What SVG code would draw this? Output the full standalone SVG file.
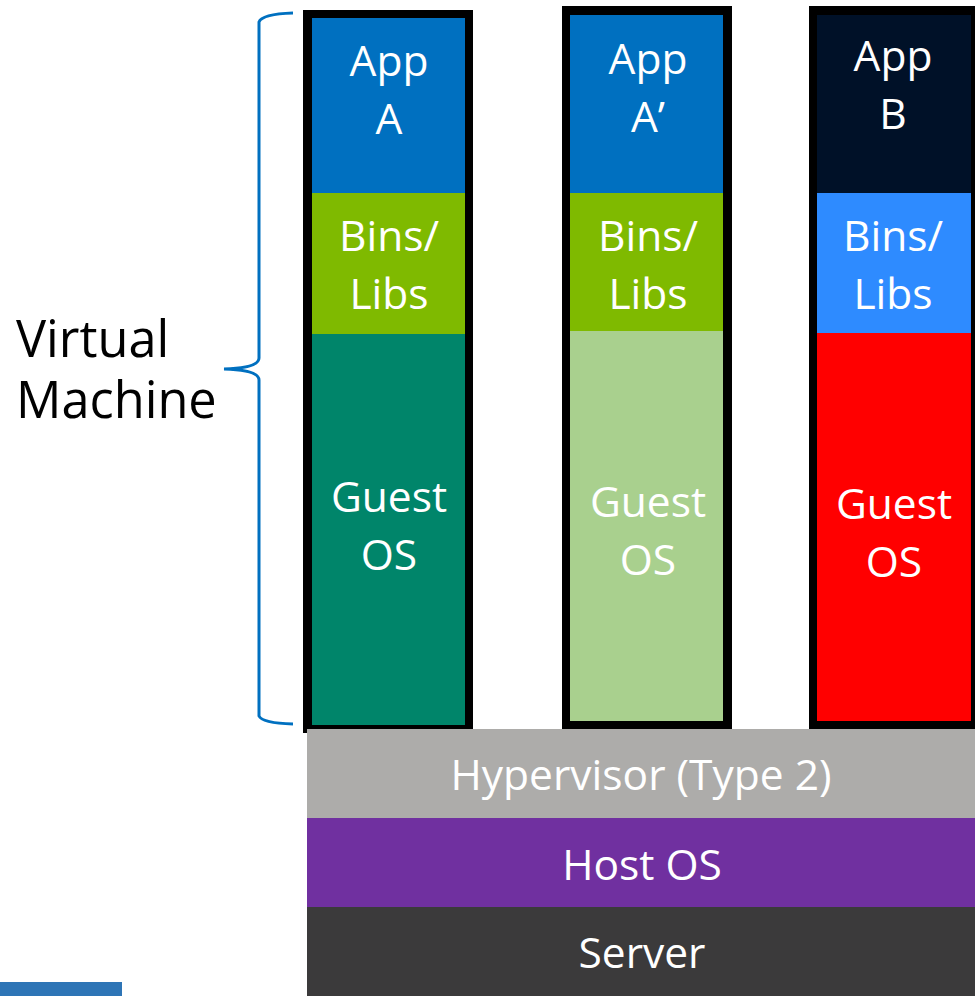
<svg xmlns="http://www.w3.org/2000/svg" width="975" height="996" viewBox="0 0 975 996">
<style>
text{font-family:"Open Sans","Noto Sans","Liberation Sans",sans-serif;fill:#fff;text-anchor:middle;font-size:42.5px}
.lbl{fill:#000;text-anchor:start;font-size:50.5px}
.frame{fill:#000}
</style>
<rect width="975" height="996" fill="#fff"/>
<g id="vm-a">
<rect class="frame" x="303" y="10" width="170" height="723"/>
<rect x="312" y="18" width="153" height="176" fill="#0070C0"/>
<rect x="312" y="193" width="153" height="141" fill="#7FBA00"/>
<rect x="312" y="334" width="153" height="391" fill="#00856A"/>
<text x="389" y="76">App</text><text x="389" y="134">A</text>
<text x="389" y="251">Bins/</text><text x="389" y="309">Libs</text>
<text x="389" y="512">Guest</text><text x="389" y="570">OS</text>
</g>
<g id="vm-a2">
<rect class="frame" x="562" y="6" width="170" height="723"/>
<rect x="570" y="15" width="153" height="179" fill="#0070C0"/>
<rect x="570" y="193" width="153" height="138" fill="#7FBA00"/>
<rect x="570" y="331" width="153" height="390" fill="#A9D08E"/>
<text x="648" y="74">App</text><text x="648" y="132">A’</text>
<text x="648" y="251">Bins/</text><text x="648" y="309">Libs</text>
<text x="648" y="517">Guest</text><text x="648" y="575">OS</text>
</g>
<g id="vm-b">
<rect class="frame" x="809" y="6" width="170" height="723"/>
<rect x="817" y="15" width="154" height="179" fill="#001128"/>
<rect x="817" y="193" width="154" height="140" fill="#2E8BFF"/>
<rect x="817" y="333" width="154" height="388" fill="#FF0000"/>
<text x="893" y="71">App</text><text x="893" y="129">B</text>
<text x="893" y="251">Bins/</text><text x="893" y="309">Libs</text>
<text x="894" y="519">Guest</text><text x="894" y="577">OS</text>
</g>
<g id="hypervisor">
<rect x="307" y="729" width="668" height="90" fill="#ADACAA"/>
<text x="641" y="790">Hypervisor (Type 2)</text>
</g>
<g id="host-os">
<rect x="307" y="818" width="668" height="90" fill="#7030A0"/>
<text x="642" y="880">Host OS</text>
</g>
<g id="server">
<rect x="307" y="907" width="668" height="89" fill="#3B3A3B"/>
<text x="642" y="968">Server</text>
</g>
<g id="connectors">
<path d="M293 13 Q262 14 259 22 L259 358 Q259 368 224 369 Q259 370 259 380 L259 716 Q262 723 293 724" fill="none" stroke="#0070C0" stroke-width="3"/>
</g>
<g id="label">
<text class="lbl" x="16" y="357">Virtual</text>
<text class="lbl" x="16" y="418">Machine</text>
</g>
<rect x="0" y="982" width="122" height="14" fill="#2E75B6"/>
</svg>
